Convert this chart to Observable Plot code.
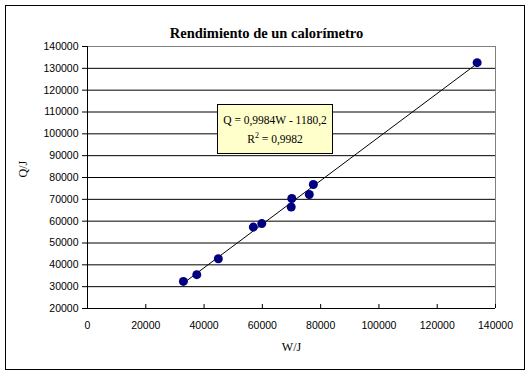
<!DOCTYPE html>
<html>
<head>
<meta charset="utf-8">
<script src="https://cdn.jsdelivr.net/npm/d3@7"></script>
<script src="https://cdn.jsdelivr.net/npm/@observablehq/plot@0.6"></script>
<style>
  html, body { margin: 0; padding: 0; background: #fff; }
  #wrap { position: relative; width: 531px; height: 376px; }
  #border { position: absolute; left: 5px; top: 5px; width: 518px; height: 363px; border: 1px solid #000; pointer-events: none; }
  #eq { position: absolute; left: 217px; top: 104px; width: 114px; border: 1px solid #000; background: #ffffcc;
        font-family: "Liberation Serif", "Times New Roman", serif; font-size: 11.5px; font-weight: normal; text-align: center; line-height: 19px; padding-top: 6px; box-sizing: content-box; height: 42px; white-space: nowrap; }
  #eq sup { font-size: 8px; line-height: 0; }
  svg { position: absolute; left: 0; top: 0; }
</style>
</head>
<body>
<div id="wrap"></div>
<script>
const title = "Rendimiento de un calorímetro";
const xLabel = "W/J";
const yLabel = "Q/J";
const equation = "Q = 0,9984W - 1180,2";
const r2 = "0,9982";
const W = [32900, 37500, 44900, 56900, 59800, 70100, 69900, 76100, 77500, 133700];
const Q = [32400, 35500, 42800, 57300, 58900, 70400, 66500, 72200, 76800, 132600];
const xTicks = [0, 20000, 40000, 60000, 80000, 100000, 120000, 140000];
const yTicks = [20000, 30000, 40000, 50000, 60000, 70000, 80000, 90000, 100000, 110000, 120000, 130000, 140000];

const data = W.map((w, i) => ({W: w, Q: Q[i]}));
const fmt = d => String(d);
const sans = "'Liberation Sans', Arial, sans-serif";
const serif = "'Liberation Serif', 'Times New Roman', serif";

const chart = Plot.plot({
  width: 531,
  height: 376,
  marginLeft: 87,
  marginRight: 36,
  marginTop: 46,
  marginBottom: 68,
  style: {fontFamily: sans, fontSize: "10.5px", color: "#000", background: "transparent"},
  x: {domain: [0, 140000], ticks: xTicks, tickFormat: fmt},
  y: {domain: [20000, 140000], ticks: yTicks, tickFormat: fmt},
  marks: [
    Plot.gridY(yTicks.slice(1, -1), {stroke: "#000", strokeOpacity: 1}),
    Plot.ruleY([140000], {stroke: "#808080"}),
    Plot.ruleX([140000], {stroke: "#808080"}),
    Plot.axisY(yTicks, {tickSize: 5, tickPadding: 4, label: null, tickFormat: fmt, fontSize: "10.5px"}),
    Plot.axisX(xTicks, {tickSize: 4, dy: -4, label: null, tickFormat: () => ""}),
    Plot.axisX(xTicks, {tickSize: 0, tickPadding: 13, label: null, tickFormat: fmt, fontSize: "10.5px"}),
    Plot.ruleX([0], {stroke: "#000"}),
    Plot.ruleY([20000], {stroke: "#000"}),
    Plot.linearRegressionY(data, {x: "W", y: "Q", ci: 0, stroke: "#000", strokeWidth: 1}),
    Plot.dot(data, {x: "W", y: "Q", r: 4.5, fill: "#000080", stroke: "none"}),
    Plot.text([title], {frameAnchor: "top", dx: -25, dy: -19, fontFamily: serif, fontWeight: "bold", fontSize: 14.5}),
    Plot.text([xLabel], {frameAnchor: "bottom", dy: 42, fontFamily: serif, fontSize: 12}),
    Plot.text([yLabel], {frameAnchor: "left", dx: -64, rotate: -90, fontFamily: serif, fontSize: 12})
  ]
});

const wrap = document.getElementById("wrap");
wrap.appendChild(chart);
const border = document.createElement("div");
border.id = "border";
wrap.appendChild(border);
const eq = document.createElement("div");
eq.id = "eq";
eq.innerHTML = equation + "<br>R<sup>2</sup> = " + r2;
wrap.appendChild(eq);
</script>
</body>
</html>
